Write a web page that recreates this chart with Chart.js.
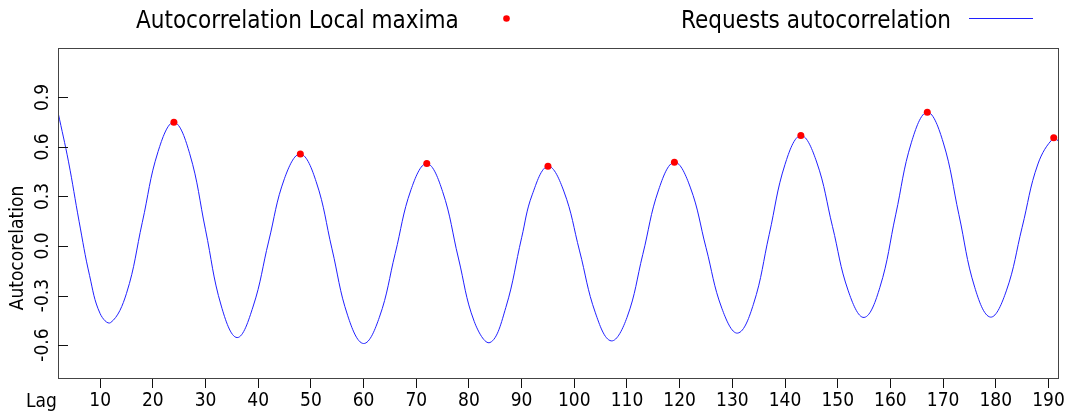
<!DOCTYPE html>
<html>
<head>
<meta charset="utf-8">
<script src="https://cdn.jsdelivr.net/npm/chart.js@4/dist/chart.umd.min.js"></script>
<style>
  body { margin: 0; background: #fff; }
  canvas { display: block; }
</style>
</head>
<body>
<canvas id="acfChart" width="1075" height="416"></canvas>
<script>
const FONT = '"DejaVu Sans Condensed", "Liberation Sans", sans-serif';

// autocorrelation (lag, value)
const lags = [2, 4, 6, 8, 10, 12, 15, 18, 21, 24, 27, 30, 33, 36, 39, 42, 45, 48, 51, 54, 57, 60,
    63, 66, 69, 72, 75, 78, 81, 84, 87, 90, 92, 95, 98, 101, 104, 107, 110, 113, 116, 119,
    122, 125, 128, 131, 134, 137, 140, 143, 146, 149, 152, 155, 158, 161, 164, 167, 170, 173,
    176, 179, 182, 185, 188, 191, 192];
const acf = [0.811, 0.51, 0.15, -0.18, -0.41, -0.464, -0.287, 0.143, 0.573, 0.750, 0.559, 0.098,
    -0.364, -0.555, -0.37, 0.03, 0.41, 0.558, 0.390, -0.017, -0.423, -0.591, -0.432, -0.046,
    0.341, 0.500, 0.33, -0.073, -0.457, -0.585, -0.373, 0.05, 0.31, 0.483, 0.333, -0.03,
    -0.405, -0.575, -0.433, -0.051, 0.34, 0.508, 0.357, -0.01, -0.377, -0.528, -0.353, 0.071,
    0.495, 0.670, 0.509, 0.119, -0.272, -0.433, -0.251, 0.189, 0.629, 0.811, 0.630, 0.19,
    -0.250, -0.431, -0.272, 0.113, 0.497, 0.656, 0.631];

// local maxima
const maxLags = [24, 48, 72, 95, 119, 143, 167, 191];
const maxValues = [0.750, 0.558, 0.500, 0.483, 0.508, 0.670, 0.811, 0.656];

const xTicks = [10, 20, 30, 40, 50, 60, 70, 80, 90, 100, 110, 120, 130, 140, 150, 160, 170, 180, 190];
const yTicks = [-0.6, -0.3, 0.0, 0.3, 0.6, 0.9];

const labelMaxima = 'Autocorrelation Local maxima';
const labelLine = 'Requests autocorrelation';

// frame, inward y ticks, legend and the axis captions
const decorations = {
    id: 'decorations',
    afterDraw(chart) {
        const ctx = chart.ctx;
        const area = chart.chartArea;
        const yScale = chart.scales.y;
        ctx.save();

        ctx.strokeStyle = '#444';
        ctx.lineWidth = 1;
        ctx.strokeRect(area.left + 0.5, area.top + 0.5, area.right - area.left - 1, area.bottom - area.top);

        ctx.strokeStyle = '#111';
        yTicks.forEach(v => {
            const y = Math.round(yScale.getPixelForValue(v)) + 0.5;
            ctx.beginPath();
            ctx.moveTo(area.left, y);
            ctx.lineTo(area.left + 10, y);
            ctx.stroke();
        });

        ctx.fillStyle = '#000';
        ctx.font = '24px ' + FONT;
        ctx.textBaseline = 'alphabetic';
        ctx.textAlign = 'left';
        ctx.fillText(labelMaxima, 136, 28);
        ctx.fillText(labelLine, 681, 28);

        ctx.fillStyle = '#ff0000';
        ctx.beginPath();
        ctx.arc(506.5, 18.5, 3.3, 0, Math.PI * 2);
        ctx.fill();

        ctx.strokeStyle = '#2020ff';
        ctx.beginPath();
        ctx.moveTo(969, 18.5);
        ctx.lineTo(1033, 18.5);
        ctx.stroke();

        ctx.fillStyle = '#000';
        ctx.font = '19px ' + FONT;
        ctx.fillText('Lag', 26, 407);

        ctx.translate(23, 248);
        ctx.rotate(-Math.PI / 2);
        ctx.textAlign = 'center';
        ctx.fillText('Autocorelation', 0, 0);
        ctx.restore();
    }
};

new Chart(document.getElementById('acfChart'), {
    type: 'scatter',
    data: {
        datasets: [{
            label: labelMaxima,
            data: maxLags.map((x, i) => ({ x: x, y: maxValues[i] })),
            pointRadius: 3.5,
            pointBackgroundColor: '#ff0000',
            pointBorderWidth: 0,
            showLine: false
        }, {
            label: labelLine,
            data: lags.map((x, i) => ({ x: x, y: acf[i] })),
            showLine: true,
            borderColor: '#2020ff',
            borderWidth: 1,
            pointRadius: 0,
            tension: 0.4
        }]
    },
    options: {
        responsive: false,
        animation: false,
        events: [],
        layout: { padding: { top: 48, right: 16, left: 0, bottom: 0 } },
        plugins: {
            legend: { display: false },
            tooltip: { enabled: false }
        },
        scales: {
            x: {
                type: 'linear',
                min: 2,
                max: 192,
                afterFit(scale) { scale.height = 38; },
                afterBuildTicks(scale) { scale.ticks = xTicks.map(v => ({ value: v })); },
                border: { display: false },
                grid: { drawOnChartArea: false, drawTicks: true, tickLength: 10, color: '#111' },
                ticks: {
                    color: '#000',
                    font: { family: FONT, size: 19 },
                    padding: 2,
                    maxRotation: 0,
                    autoSkip: false
                }
            },
            y: {
                min: -0.8,
                max: 1.2,
                afterFit(scale) { scale.width = 58; },
                afterBuildTicks(scale) { scale.ticks = yTicks.map(v => ({ value: v })); },
                border: { display: false },
                grid: { display: false, drawTicks: false },
                ticks: {
                    color: '#000',
                    font: { family: FONT, size: 19 },
                    minRotation: 90,
                    maxRotation: 90,
                    crossAlign: 'center',
                    padding: -2,
                    autoSkip: false,
                    callback: v => v.toFixed(1)
                }
            }
        }
    },
    plugins: [decorations]
});
</script>
</body>
</html>
